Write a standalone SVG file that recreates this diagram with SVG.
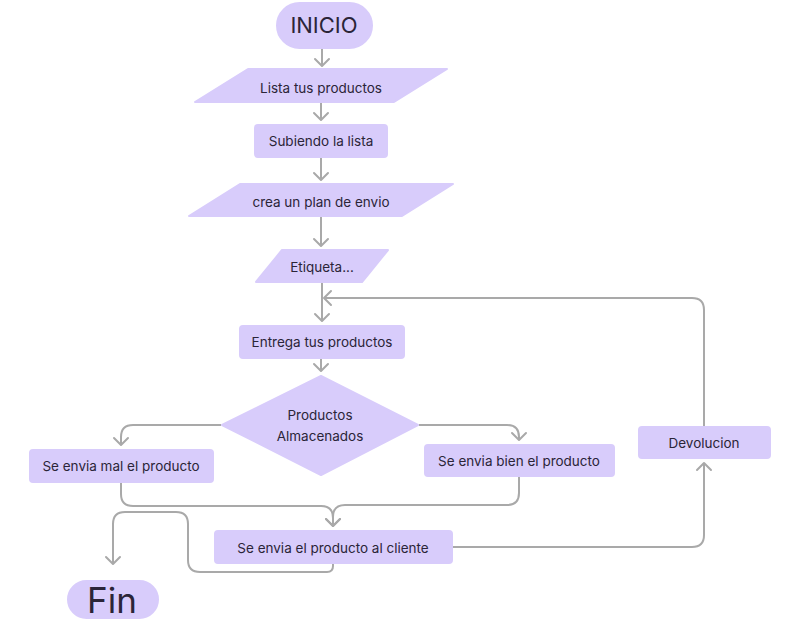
<svg xmlns="http://www.w3.org/2000/svg" width="800" height="620" viewBox="0 0 800 620">
<defs>
<marker id="ah" markerUnits="userSpaceOnUse" markerWidth="20" markerHeight="20" viewBox="-10 -10 20 20" refX="0" refY="0" orient="auto">
<path d="M-7,-7 L0,0 L-7,7" fill="none" stroke="#a9a9a9" stroke-width="2" stroke-linecap="round" stroke-linejoin="round"/>
</marker>
<style>
.n{fill:#d8ccfb;stroke:#d8ccfb;stroke-width:2;stroke-linejoin:round}
.t{font-family:Inter,"Noto Sans","Liberation Sans",sans-serif;font-size:13.5px;fill:#2b2538;text-anchor:middle}
.c path{fill:none;stroke:#a9a9a9;stroke-width:2;marker-end:url(#ah)}
</style>
</defs>
<rect width="800" height="620" fill="#ffffff"/>
<g class="c" id="connectors">
<path d="M322 48 V66"/>
<path d="M321 103 V120"/>
<path d="M321 158 V180"/>
<path d="M321 217 V246"/>
<path d="M322 283 V321"/>
<path d="M704 426 V310 Q704 298 692 298 H324"/>
<path d="M321 358 V371"/>
<path d="M221 425 H133 Q121 425 121 437 V445"/>
<path d="M419 425 H507 Q519 425 519 437 V440"/>
<path d="M121 483 V494 Q121 506 133 506 H321 Q333 506 333 518 V526"/>
<path d="M519 477 V493 Q519 505 507 505 H345 Q333 505 333 517 V526"/>
<path d="M452 547 H692 Q704 547 704 535 V463"/>
<path d="M333 563 V566 Q333 572 327 572 H200 Q188 572 188 560 V524 Q188 512 176 512 H125 Q113 512 113 524 V564"/>
</g>
<g id="inicio"><rect class="n" x="277" y="3" width="95" height="45" rx="22.5"/><text class="t" x="324" y="33" style="font-size:22px">INICIO</text></g>
<g id="lista"><polygon class="n" points="248,69 447,69 394,102 195,102"/><text class="t" x="321" y="93">Lista tus productos</text></g>
<g id="subiendo"><rect class="n" x="255" y="125" width="132" height="32" rx="3"/><text class="t" x="321" y="146">Subiendo la lista</text></g>
<g id="crea"><polygon class="n" points="240,184 453,184 402,216 189,216"/><text class="t" x="321" y="207">crea un plan de envio</text></g>
<g id="etiqueta"><polygon class="n" points="282,250 388,250 362,282 256,282"/><text class="t" x="322" y="272">Etiqueta...</text></g>
<g id="entrega"><rect class="n" x="240" y="326" width="164" height="32" rx="3"/><text class="t" x="322" y="347">Entrega tus productos</text></g>
<g id="almacenados"><polygon class="n" points="321,376 418,425 321,475 222,425"/><text class="t" x="320" y="420">Productos</text><text class="t" x="320" y="441">Almacenados</text></g>
<g id="mal"><rect class="n" x="30" y="450" width="183" height="32" rx="3"/><text class="t" x="121" y="471">Se envia mal el producto</text></g>
<g id="bien"><rect class="n" x="425" y="445" width="189" height="31" rx="3"/><text class="t" x="519" y="466">Se envia bien el producto</text></g>
<g id="devolucion"><rect class="n" x="639" y="427" width="131" height="31" rx="3"/><text class="t" x="704" y="448">Devolucion</text></g>
<g id="cliente"><rect class="n" x="215" y="531" width="237" height="32" rx="3"/><text class="t" x="333" y="553">Se envia el producto al cliente</text></g>
<g id="fin"><rect class="n" x="68" y="581" width="90" height="37" rx="18.5"/><text class="t" x="112" y="613" style="font-size:35px">Fin</text></g>
</svg>
